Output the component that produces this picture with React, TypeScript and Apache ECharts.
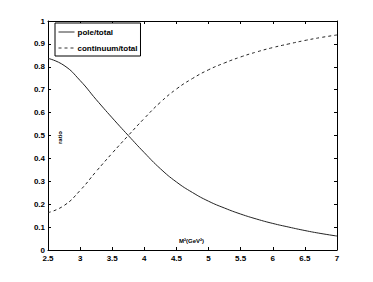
import React, { useEffect, useRef } from "react";
import * as echarts from "echarts";

const xValues = [2.5, 2.75, 3.0, 3.25, 3.5, 3.75, 4.0, 4.25, 4.5, 4.75, 5.0, 5.25, 5.5, 5.75, 6.0, 6.25, 6.5, 6.75, 7.0];
const poleTotal = [0.837, 0.806, 0.74, 0.657, 0.577, 0.5, 0.425, 0.355, 0.297, 0.251, 0.213, 0.183, 0.157, 0.135, 0.116, 0.1, 0.085, 0.072, 0.061];
const continuumTotal = [0.163, 0.194, 0.26, 0.343, 0.423, 0.5, 0.575, 0.645, 0.703, 0.749, 0.787, 0.817, 0.843, 0.865, 0.884, 0.9, 0.915, 0.928, 0.939];
const seriesNames = ["pole/total", "continuum/total"];
const xAxisTitle = "M²(GeV²)";
const yAxisTitle = "ratio";

const FONT = "'Liberation Sans', Arial, sans-serif";

export default function App() {
  const ref = useRef<HTMLDivElement>(null);
  useEffect(() => {
    if (!ref.current) return;
    const chart = echarts.init(ref.current, null, { renderer: "svg" });
    const grid = { left: 48, top: 21, width: 289, height: 229, containLabel: false };
    const tickStyle = { show: true, inside: true, length: 3, lineStyle: { color: "#000", width: 1 } };
    const labelStyle = { color: "#000", fontSize: 8, fontWeight: "bold" as const, fontFamily: FONT };
    const toPairs = (ys: number[]) => xValues.map((x, i) => [x, ys[i]]);
    chart.setOption({
      animation: false,
      backgroundColor: "#fff",
      grid,
      legend: {
        show: true,
        orient: "vertical",
        left: 55,
        top: 23,
        backgroundColor: "#fff",
        borderColor: "#000",
        borderWidth: 1,
        borderRadius: 0,
        padding: [5, 3, 4, 3],
        itemWidth: 16,
        itemHeight: 8,
        itemGap: 8,
        itemStyle: { opacity: 0 },
        lineStyle: { width: 1, color: "#333" },
        textStyle: { ...labelStyle, padding: [0, 0, 0, -2] },
        data: seriesNames.map((n) => ({ name: n })),
      },
      xAxis: [
        {
          type: "value",
          position: "bottom",
          min: 2.5,
          max: 7,
          interval: 0.5,
          axisLine: { show: true, onZero: false, lineStyle: { color: "#000", width: 1 } },
          axisTick: tickStyle,
          axisLabel: { ...labelStyle, margin: 4 },
          splitLine: { show: false },
        },
        {
          type: "value",
          position: "top",
          min: 2.5,
          max: 7,
          interval: 0.5,
          axisLine: { show: true, onZero: false, lineStyle: { color: "#000", width: 1 } },
          axisTick: tickStyle,
          axisLabel: { show: false },
          splitLine: { show: false },
        },
      ],
      yAxis: [
        {
          type: "value",
          position: "left",
          min: 0,
          max: 1,
          interval: 0.1,
          axisLine: { show: true, onZero: false, lineStyle: { color: "#000", width: 1 } },
          axisTick: tickStyle,
          axisLabel: { ...labelStyle, margin: 3 },
          splitLine: { show: false },
        },
        {
          type: "value",
          position: "right",
          min: 0,
          max: 1,
          interval: 0.1,
          axisLine: { show: true, onZero: false, lineStyle: { color: "#000", width: 1 } },
          axisTick: tickStyle,
          axisLabel: { show: false },
          splitLine: { show: false },
        },
      ],
      graphic: [
        {
          type: "text",
          left: 179,
          top: 238,
          style: { text: xAxisTitle, fill: "#000", font: `bold 6px ${FONT}` },
        },
        {
          type: "text",
          x: 57,
          y: 144,
          rotation: Math.PI / 2,
          style: { text: yAxisTitle, fill: "#000", font: `bold 6px ${FONT}` },
        },
      ],
      series: [
        {
          name: seriesNames[0],
          type: "line",
          data: toPairs(poleTotal),
          smooth: true,
          symbol: "none",
          lineStyle: { color: "#222", width: 1, type: "solid" },
          itemStyle: { color: "#222" },
        },
        {
          name: seriesNames[1],
          type: "line",
          data: toPairs(continuumTotal),
          smooth: true,
          symbol: "none",
          lineStyle: { color: "#222", width: 1, type: [3, 3] },
          itemStyle: { color: "#222" },
        },
      ],
    });
    return () => chart.dispose();
  }, []);
  return <div ref={ref} style={{ width: 373, height: 282, position: "absolute", left: 0, top: 0 }} />;
}
